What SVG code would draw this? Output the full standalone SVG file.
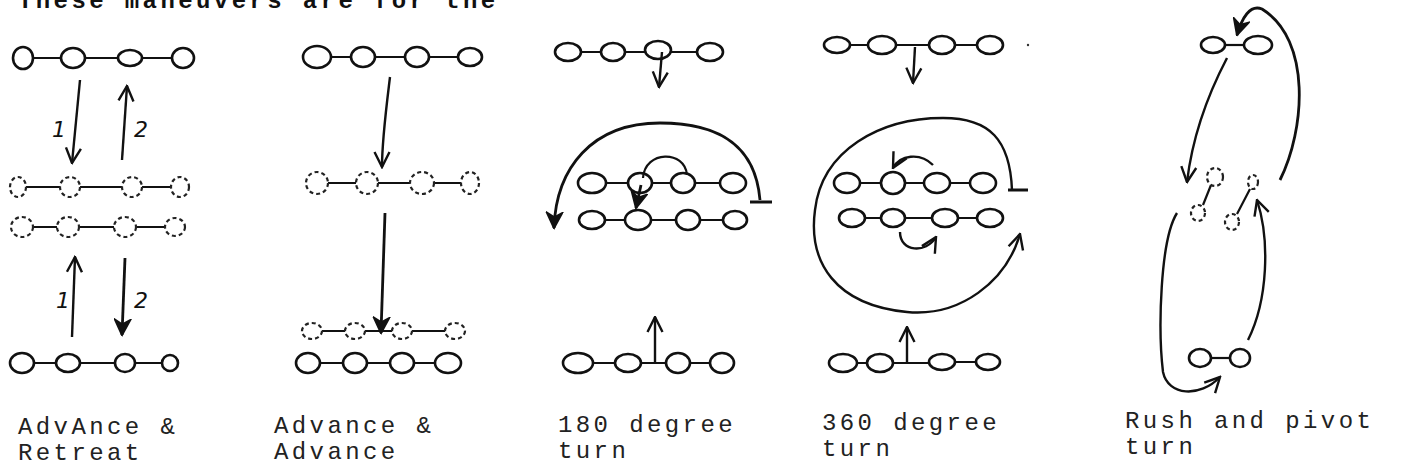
<svg xmlns="http://www.w3.org/2000/svg" width="1401" height="469" viewBox="0 0 1401 469">
  <defs>
    <style>
      .s { fill: none; stroke: #111; stroke-width: 2.6; }
      .d { fill: none; stroke: #222; stroke-width: 2.2; stroke-dasharray: 4 3; }
      .l { fill: none; stroke: #111; stroke-width: 2.2; }
      .a { fill: none; stroke: #111; stroke-width: 2.4; marker-end: url(#ah); }
      .ab { fill: none; stroke: #111; stroke-width: 2.8; marker-end: url(#ahb); }
      .tb { fill: none; stroke: #111; stroke-width: 3; }
      .lab { font-family: "Liberation Mono", "DejaVu Sans Mono", monospace; font-size: 24px; letter-spacing: 3.4px; fill: #222; }
      .num { font-family: "DejaVu Sans", sans-serif; font-style: italic; font-size: 22px; fill: #111; }
    </style>
    <marker id="ah" viewBox="0 0 12 12" refX="11" refY="6" markerWidth="18" markerHeight="18" markerUnits="userSpaceOnUse" orient="auto">
      <path d="M1,1 L11,6 L1,11" fill="none" stroke="#111" stroke-width="1.6"/>
    </marker>
    <marker id="ahb" viewBox="0 0 12 12" refX="11" refY="6" markerWidth="18" markerHeight="18" markerUnits="userSpaceOnUse" orient="auto">
      <path d="M1,1 L11,6 L1,11 L4,6 Z" fill="#111" stroke="#111" stroke-width="1.4"/>
    </marker>
  </defs>
  <rect width="1401" height="469" fill="#fff"/>

  <!-- heading line, cut by the top edge -->
  <text x="18" y="8" class="lab" style="font-weight:bold;fill:#111">These maneuvers are for the</text>

  <!-- Panel 1: advance and retreat -->
  <g id="p1-top">
    <path class="l" d="M33,58 H61 M85,58 H118 M142,58 H172"/>
    <ellipse class="s" cx="23" cy="58" rx="10" ry="11"/>
    <ellipse class="s" cx="73" cy="58" rx="12" ry="10"/>
    <ellipse class="s" cx="130" cy="58" rx="12" ry="8"/>
    <ellipse class="s" cx="183" cy="58" rx="11" ry="10"/>
  </g>
  <g id="p1-mid1">
    <path class="l" d="M26,187 H60 M80,187 H122 M142,187 H171"/>
    <ellipse class="d" cx="18" cy="187" rx="8" ry="10"/>
    <ellipse class="d" cx="70" cy="187" rx="10" ry="10"/>
    <ellipse class="d" cx="132" cy="187" rx="10" ry="10"/>
    <ellipse class="d" cx="180" cy="187" rx="9" ry="10"/>
  </g>
  <g id="p1-mid2">
    <path class="l" d="M33,227 H57 M79,227 H114 M136,227 H165"/>
    <ellipse class="d" cx="22" cy="227" rx="11" ry="10"/>
    <ellipse class="d" cx="68" cy="227" rx="11" ry="10"/>
    <ellipse class="d" cx="125" cy="227" rx="11" ry="10"/>
    <ellipse class="d" cx="175" cy="227" rx="10" ry="9"/>
  </g>
  <g id="p1-bottom">
    <path class="l" d="M34,363 H56 M80,363 H115 M135,363 H162"/>
    <ellipse class="s" cx="22" cy="363" rx="12" ry="10"/>
    <ellipse class="s" cx="68" cy="363" rx="12" ry="9"/>
    <ellipse class="s" cx="125" cy="363" rx="10" ry="9"/>
    <ellipse class="s" cx="170" cy="363" rx="8" ry="8"/>
  </g>
  <g id="p1-label">
    <text class="lab" x="18" y="434">AdvAnce &amp;</text>
    <text class="lab" x="18" y="460">Retreat</text>
  </g>

  <!-- Panel 2: advance and advance -->
  <g id="p2-top">
    <path class="l" d="M331,57 H351 M375,57 H405 M429,57 H458"/>
    <ellipse class="s" cx="317" cy="57" rx="14" ry="11"/>
    <ellipse class="s" cx="363" cy="57" rx="12" ry="10"/>
    <ellipse class="s" cx="417" cy="57" rx="12" ry="10"/>
    <ellipse class="s" cx="470" cy="57" rx="12" ry="9"/>
  </g>
  <g id="p2-mid">
    <path class="l" d="M328,183 H356 M378,183 H410 M434,183 H461"/>
    <ellipse class="d" cx="317" cy="183" rx="11" ry="11"/>
    <ellipse class="d" cx="367" cy="183" rx="11" ry="11"/>
    <ellipse class="d" cx="422" cy="183" rx="12" ry="11"/>
    <ellipse class="d" cx="470" cy="183" rx="9" ry="11"/>
  </g>
  <g id="p2-ghost">
    <path class="l" d="M322,331 H345 M365,331 H392 M412,331 H445"/>
    <ellipse class="d" cx="312" cy="331" rx="10" ry="8"/>
    <ellipse class="d" cx="355" cy="331" rx="10" ry="8"/>
    <ellipse class="d" cx="402" cy="331" rx="10" ry="8"/>
    <ellipse class="d" cx="455" cy="331" rx="10" ry="8"/>
  </g>
  <g id="p2-bottom">
    <path class="l" d="M320,363 H343 M367,363 H390 M414,363 H435"/>
    <ellipse class="s" cx="308" cy="363" rx="12" ry="10"/>
    <ellipse class="s" cx="355" cy="363" rx="12" ry="10"/>
    <ellipse class="s" cx="402" cy="363" rx="12" ry="10"/>
    <ellipse class="s" cx="448" cy="363" rx="13" ry="10"/>
  </g>
  <g id="p2-label">
    <text class="lab" x="274" y="433">Advance &amp;</text>
    <text class="lab" x="274" y="459">Advance</text>
  </g>

  <!-- Panel 3: 180 degree turn -->
  <g id="p3-top">
    <path class="l" d="M581,52 H601 M625,52 H645 M671,52 H697"/>
    <ellipse class="s" cx="568" cy="52" rx="13" ry="9"/>
    <ellipse class="s" cx="613" cy="52" rx="12" ry="9"/>
    <ellipse class="s" cx="658" cy="50" rx="13" ry="9"/>
    <ellipse class="s" cx="710" cy="52" rx="13" ry="9"/>
  </g>
  <g id="p3-row1">
    <path class="l" d="M606,183 H628 M652,183 H671 M695,183 H720"/>
    <ellipse class="s" cx="592" cy="183" rx="14" ry="10"/>
    <ellipse class="s" cx="640" cy="183" rx="12" ry="10"/>
    <ellipse class="s" cx="683" cy="183" rx="12" ry="10"/>
    <ellipse class="s" cx="733" cy="183" rx="13" ry="10"/>
  </g>
  <g id="p3-row2">
    <path class="l" d="M605,220 H625 M651,220 H676 M700,220 H723"/>
    <ellipse class="s" cx="592" cy="220" rx="13" ry="9"/>
    <ellipse class="s" cx="638" cy="220" rx="13" ry="10"/>
    <ellipse class="s" cx="688" cy="220" rx="12" ry="10"/>
    <ellipse class="s" cx="735" cy="220" rx="12" ry="9"/>
  </g>
  <g id="p3-bottom">
    <path class="l" d="M593,363 H615 M641,363 H666 M690,363 H710"/>
    <ellipse class="s" cx="578" cy="363" rx="15" ry="10"/>
    <ellipse class="s" cx="628" cy="363" rx="13" ry="9"/>
    <ellipse class="s" cx="678" cy="363" rx="12" ry="10"/>
    <ellipse class="s" cx="722" cy="363" rx="12" ry="10"/>
  </g>
  <g id="p3-label">
    <text class="lab" x="558" y="432">180 degree</text>
    <text class="lab" x="558" y="458">turn</text>
  </g>

  <!-- Panel 4: 360 degree turn -->
  <g id="p4-top">
    <path class="l" d="M850,45 H868 M896,45 H929 M955,45 H977"/>
    <ellipse class="s" cx="837" cy="45" rx="13" ry="8"/>
    <ellipse class="s" cx="882" cy="45" rx="14" ry="9"/>
    <ellipse class="s" cx="942" cy="45" rx="13" ry="9"/>
    <ellipse class="s" cx="990" cy="45" rx="13" ry="9"/>
    <circle cx="1028" cy="45" r="1.2" fill="#333"/>
  </g>
  <g id="p4-row1">
    <path class="l" d="M860,183 H881 M905,183 H924 M950,183 H970"/>
    <ellipse class="s" cx="847" cy="183" rx="13" ry="10"/>
    <ellipse class="s" cx="893" cy="183" rx="12" ry="11"/>
    <ellipse class="s" cx="937" cy="183" rx="13" ry="10"/>
    <ellipse class="s" cx="983" cy="183" rx="13" ry="10"/>
  </g>
  <g id="p4-row2">
    <path class="l" d="M865,218 H881 M905,218 H932 M958,218 H977"/>
    <ellipse class="s" cx="852" cy="218" rx="13" ry="9"/>
    <ellipse class="s" cx="893" cy="218" rx="12" ry="9"/>
    <ellipse class="s" cx="945" cy="218" rx="13" ry="9"/>
    <ellipse class="s" cx="990" cy="218" rx="13" ry="9"/>
  </g>
  <g id="p4-bottom">
    <path class="l" d="M857,363 H867 M893,363 H929 M955,362 H976"/>
    <ellipse class="s" cx="843" cy="363" rx="14" ry="9"/>
    <ellipse class="s" cx="880" cy="363" rx="13" ry="9"/>
    <ellipse class="s" cx="942" cy="362" rx="13" ry="8"/>
    <ellipse class="s" cx="988" cy="362" rx="12" ry="8"/>
  </g>
  <g id="p4-label">
    <text class="lab" x="822" y="430">360 degree</text>
    <text class="lab" x="822" y="456">turn</text>
  </g>

  <!-- Panel 5: rush and pivot turn -->
  <g id="p5-top">
    <path class="l" d="M1225,45 H1244"/>
    <ellipse class="s" cx="1213" cy="45" rx="12" ry="8"/>
    <ellipse class="s" cx="1258" cy="45" rx="14" ry="9"/>
  </g>
  <g id="p5-pivot">
    <path class="l" d="M1211,185 L1203,205 M1250,189 L1237,214"/>
    <ellipse class="d" cx="1215" cy="177" rx="8" ry="9"/>
    <ellipse class="d" cx="1198" cy="213" rx="7" ry="8"/>
    <ellipse class="d" cx="1253" cy="182" rx="5" ry="7"/>
    <ellipse class="d" cx="1232" cy="222" rx="7" ry="8"/>
  </g>
  <g id="p5-bottom">
    <path class="l" d="M1211,358 H1230"/>
    <ellipse class="s" cx="1200" cy="358" rx="11" ry="9"/>
    <ellipse class="s" cx="1240" cy="358" rx="10" ry="9"/>
  </g>
  <g id="p5-label">
    <text class="lab" x="1125" y="428">Rush and pivot</text>
    <text class="lab" x="1125" y="454">turn</text>
  </g>

  <!-- movement arrows -->
  <g id="connectors">
    <!-- panel 1 -->
    <path class="a" d="M80,80 L72,163"/>
    <text class="num" x="52" y="137">1</text>
    <path class="a" d="M122,160 L127,86"/>
    <text class="num" x="134" y="137">2</text>
    <path class="a" d="M72,337 L75,257"/>
    <text class="num" x="56" y="308">1</text>
    <path class="ab" d="M125,258 L122,335"/>
    <text class="num" x="134" y="308">2</text>

    <!-- panel 2 -->
    <path class="a" d="M390,77 C386,110 382,140 382,167"/>
    <path class="ab" d="M385,213 L381,333"/>

    <!-- panel 3 -->
    <path class="a" d="M662,52 L659,87"/>
    <path class="ab" d="M760,200 C755,140 712,123 660,123 C592,123 556,168 554,228"/>
    <path class="tb" d="M750,202 H772"/>
    <path class="l" d="M643,178 C645,150 685,150 687,175"/>
    <path class="ab" d="M641,185 L636,208"/>
    <path class="a" d="M655,363 L655,317"/>

    <!-- panel 4 -->
    <path class="a" d="M915,47 L913,83"/>
    <path class="a" d="M1012,190 C1010,140 990,118 943,118 C880,118 822,150 815,210 C808,262 835,305 907,312 C960,317 1006,282 1020,234"/>
    <path class="tb" d="M1008,190 H1028"/>
    <path class="a" d="M933,165 C920,152 900,155 893,168"/>
    <path class="a" d="M900,232 C900,252 926,254 936,237"/>
    <path class="a" d="M907,362 L907,327"/>

    <!-- panel 5 -->
    <path class="a" d="M1227,58 C1205,100 1192,140 1187,182"/>
    <path class="ab" d="M1280,180 C1305,130 1312,40 1262,9 C1250,4 1242,18 1237,35"/>
    <path class="a" d="M1177,213 C1160,240 1158,330 1163,372 C1168,396 1200,398 1220,377"/>
    <path class="a" d="M1248,340 C1268,300 1270,240 1257,200"/>
  </g>
</svg>
